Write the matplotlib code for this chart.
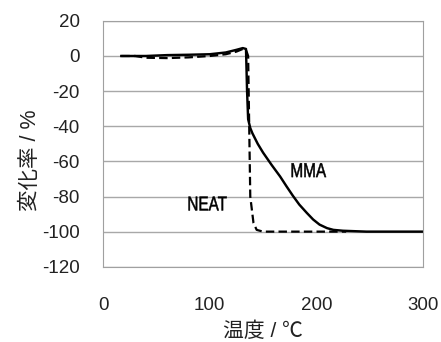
import matplotlib.pyplot as plt
import matplotlib.transforms as mtransforms
from matplotlib.textpath import TextPath
from matplotlib.patches import PathPatch
from matplotlib.font_manager import FontProperties

plt.rcParams['font.family'] = ['Liberation Sans', 'Noto Sans CJK JP', 'DejaVu Sans']
plt.rcParams['axes.unicode_minus'] = False

# MMA sample: change ratio vs temperature
mma_temp = [17, 40, 60, 80, 100, 115, 125, 131, 134, 135, 136, 138, 140, 145, 150,
            158, 166, 172, 178, 184, 191, 197, 203, 210, 216, 225, 247, 300]
mma_rate = [0, 0, 0.5, 0.7, 1, 2, 3.5, 4.5, 4, -20, -36, -41, -44, -50, -55,
            -62, -68.6, -74.2, -79.6, -84.6, -89.3, -93.1, -96, -98, -99, -99.5, -100, -100]

# NEAT sample
neat_temp = [17, 30, 40, 60, 80, 100, 115, 125, 131, 134, 136, 137, 138, 141, 144, 150, 180, 228]
neat_rate = [0, 0, -1, -1.2, -0.8, 0, 1, 2.5, 4, 3.5, 0, -40, -80, -95, -99, -100, -100, -100]

labels = ['MMA', 'NEAT']
label_pos = [(193, -65), (98, -84)]


def narrow_text(fig, ax, x, y, s, size=14.5, squeeze=0.76):
    # condensed label: glyph outline squeezed horizontally
    tp = TextPath((0, 0), s, size=size, prop=FontProperties(family='Liberation Sans'))
    bb = tp.get_extents()
    tr = (mtransforms.Affine2D()
          .translate(-(bb.x0 + bb.x1) / 2, -(bb.y0 + bb.y1) / 2)
          .scale(squeeze / 72.0, 1 / 72.0)
          + fig.dpi_scale_trans
          + mtransforms.ScaledTranslation(x, y, ax.transData))
    ax.add_artist(PathPatch(tp, transform=tr, facecolor='black',
                            edgecolor='black', lw=0.35, clip_on=False))


fig, ax = plt.subplots(figsize=(4.41, 3.42), dpi=100)
fig.subplots_adjust(left=0.234, right=0.959, top=0.939, bottom=0.22)

ax.plot(mma_temp, mma_rate, color='black', lw=1.75, solid_joinstyle='round')
ax.plot(neat_temp, neat_rate, color='black', lw=1.6, ls=(0, (3.8, 1.9)))

ax.set_xlim(0, 300)
ax.set_ylim(-120, 20)
ax.set_xticks([0, 100, 200, 300])
ax.set_yticks(range(-120, 21, 20))
ax.yaxis.grid(True, color='#a8a8a8', lw=1)
ax.set_axisbelow(True)
ax.tick_params(length=0, labelsize=13.5, colors='#222222', pad=17)
ax.tick_params(axis='x', pad=22)
for s in ax.spines.values():
    s.set_color('#a0a0a0')

for lab, (lx, ly) in zip(labels, label_pos):
    narrow_text(fig, ax, lx, ly, lab)

ax.set_xlabel('温度 / ℃', fontsize=15, color='#222222')
ax.set_ylabel('変化率 / %', fontsize=15.5, color='#222222')
ax.xaxis.set_label_coords(0.5, -0.222)
ax.yaxis.set_label_coords(-0.195, 0.435)

fig.savefig('out.png')
